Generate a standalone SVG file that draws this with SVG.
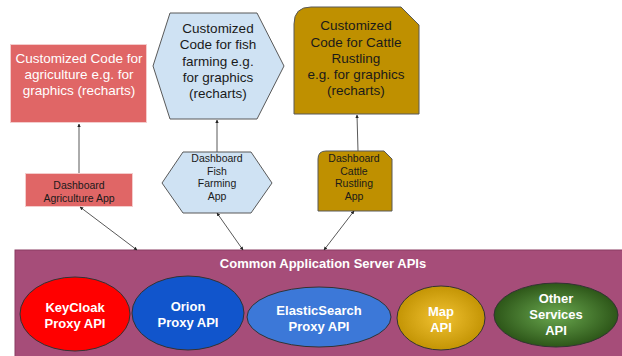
<svg xmlns="http://www.w3.org/2000/svg" width="622" height="356" viewBox="0 0 622 356">
<defs>
<style>
.t{font-family:"Liberation Sans",Arial,sans-serif;text-anchor:middle}
.big{font-size:13.5px}
.sm{font-size:10.5px;fill:#1a1a1a}
.b{font-size:13px;font-weight:bold;fill:#fff}
.ln{stroke:#595959;stroke-width:1;fill:none;marker-start:url(#ah);marker-end:url(#ah)}
.up{stroke:#595959;stroke-width:1;fill:none;marker-end:url(#ah)}
.ell{stroke:#333;stroke-width:1}
</style>
<marker id="ah" viewBox="0 0 10 10" refX="9" refY="5" markerWidth="3.5" markerHeight="3.5" orient="auto-start-reverse" markerUnits="strokeWidth">
<path d="M0,0 L10,5 L0,10 Z" fill="#222"/>
</marker>
<radialGradient id="gMap" cx="50%" cy="50%" r="55%">
<stop offset="0" stop-color="#f1c232"/>
<stop offset="1" stop-color="#bf9000"/>
</radialGradient>
<radialGradient id="gOther" cx="50%" cy="50%" r="55%">
<stop offset="0" stop-color="#6aa84f"/>
<stop offset="1" stop-color="#274e13"/>
</radialGradient>
</defs>

<g id="server">
<rect x="15" y="250" width="612" height="110" fill="#a64d79" stroke="#8a3d63" stroke-width="1"/>
<text class="t b" x="323" y="268">Common Application Server APIs</text>
</g>

<g id="keycloak">
<ellipse class="ell" cx="75" cy="314" rx="55" ry="37" fill="#ff0000"/>
<text class="t b" x="75" y="312">KeyCloak</text>
<text class="t b" x="75" y="328">Proxy API</text>
</g>
<g id="orion">
<ellipse class="ell" cx="188" cy="313" rx="56" ry="37" fill="#1155cc"/>
<text class="t b" x="188" y="311">Orion</text>
<text class="t b" x="188" y="327">Proxy API</text>
</g>
<g id="elastic">
<ellipse class="ell" cx="319" cy="317" rx="72" ry="30" fill="#3c78d8"/>
<text class="t b" x="319" y="315">ElasticSearch</text>
<text class="t b" x="319" y="331">Proxy API</text>
</g>
<g id="map">
<ellipse class="ell" cx="441" cy="318" rx="44" ry="32" fill="url(#gMap)"/>
<text class="t b" x="441" y="316">Map</text>
<text class="t b" x="441" y="332">API</text>
</g>
<g id="other">
<ellipse class="ell" cx="556" cy="315" rx="62" ry="32" fill="url(#gOther)"/>
<text class="t b" x="556" y="303">Other</text>
<text class="t b" x="556" y="319">Services</text>
<text class="t b" x="556" y="335">API</text>
</g>

<g id="agri-code">
<rect x="10.5" y="44.5" width="136" height="78" fill="#e06666" stroke="#f4cccc" stroke-width="1"/>
<text class="t big" fill="#fff" x="79" y="63">Customized Code for</text>
<text class="t big" fill="#fff" x="79" y="79">agriculture e.g. for</text>
<text class="t big" fill="#fff" x="79" y="95">graphics (recharts)</text>
</g>
<g id="fish-code">
<polygon points="170,13 257,13 284,66 257,119 170,119 153,66" fill="#cfe2f3" stroke="#595959" stroke-width="1"/>
<text class="t big" fill="#1a1a1a" x="218" y="33">Customized</text>
<text class="t big" fill="#1a1a1a" x="218" y="49">Code for fish</text>
<text class="t big" fill="#1a1a1a" x="218" y="66">farming e.g.</text>
<text class="t big" fill="#1a1a1a" x="218" y="82">for graphics</text>
<text class="t big" fill="#1a1a1a" x="218" y="98">(recharts)</text>
</g>
<g id="cattle-code">
<path d="M294,24 Q294,7 311,7 L401,7 L419,25 L419,114 L294,114 Z" fill="#bf9000" stroke="#595959" stroke-width="1"/>
<text class="t big" fill="#1a1a1a" x="356" y="30">Customized</text>
<text class="t big" fill="#1a1a1a" x="356" y="47">Code for Cattle</text>
<text class="t big" fill="#1a1a1a" x="356" y="63">Rustling</text>
<text class="t big" fill="#1a1a1a" x="356" y="79">e.g. for graphics</text>
<text class="t big" fill="#1a1a1a" x="356" y="95">(recharts)</text>
</g>

<g id="agri-app">
<rect x="25.5" y="173.5" width="107" height="33" fill="#e06666" stroke="#f4cccc" stroke-width="1"/>
<text class="t sm" x="79" y="189">Dashboard</text>
<text class="t sm" x="79" y="202">Agriculture App</text>
</g>
<g id="fish-app">
<polygon points="183,152 251,152 272,183 251,213 183,213 162,183" fill="#cfe2f3" stroke="#595959" stroke-width="1"/>
<text class="t sm" x="217" y="162">Dashboard</text>
<text class="t sm" x="217" y="175">Fish</text>
<text class="t sm" x="217" y="187">Farming</text>
<text class="t sm" x="217" y="200">App</text>
</g>
<g id="cattle-app">
<path d="M318,159 Q318,151 326,151 L384,151 L392,159 L392,211 L318,211 Z" fill="#bf9000" stroke="#595959" stroke-width="1"/>
<text class="t sm" x="354" y="162">Dashboard</text>
<text class="t sm" x="354" y="175">Cattle</text>
<text class="t sm" x="354" y="187">Rustling</text>
<text class="t sm" x="354" y="200">App</text>
</g>

<g id="connectors">
<line class="up" x1="79" y1="173" x2="79" y2="124"/>
<line class="up" x1="217" y1="152" x2="217" y2="120"/>
<line class="up" x1="358" y1="151" x2="357" y2="115"/>
<line class="ln" x1="80" y1="207" x2="137" y2="250"/>
<line class="ln" x1="217" y1="213" x2="243" y2="250"/>
<line class="ln" x1="354" y1="211" x2="324" y2="250"/>
</g>
</svg>
